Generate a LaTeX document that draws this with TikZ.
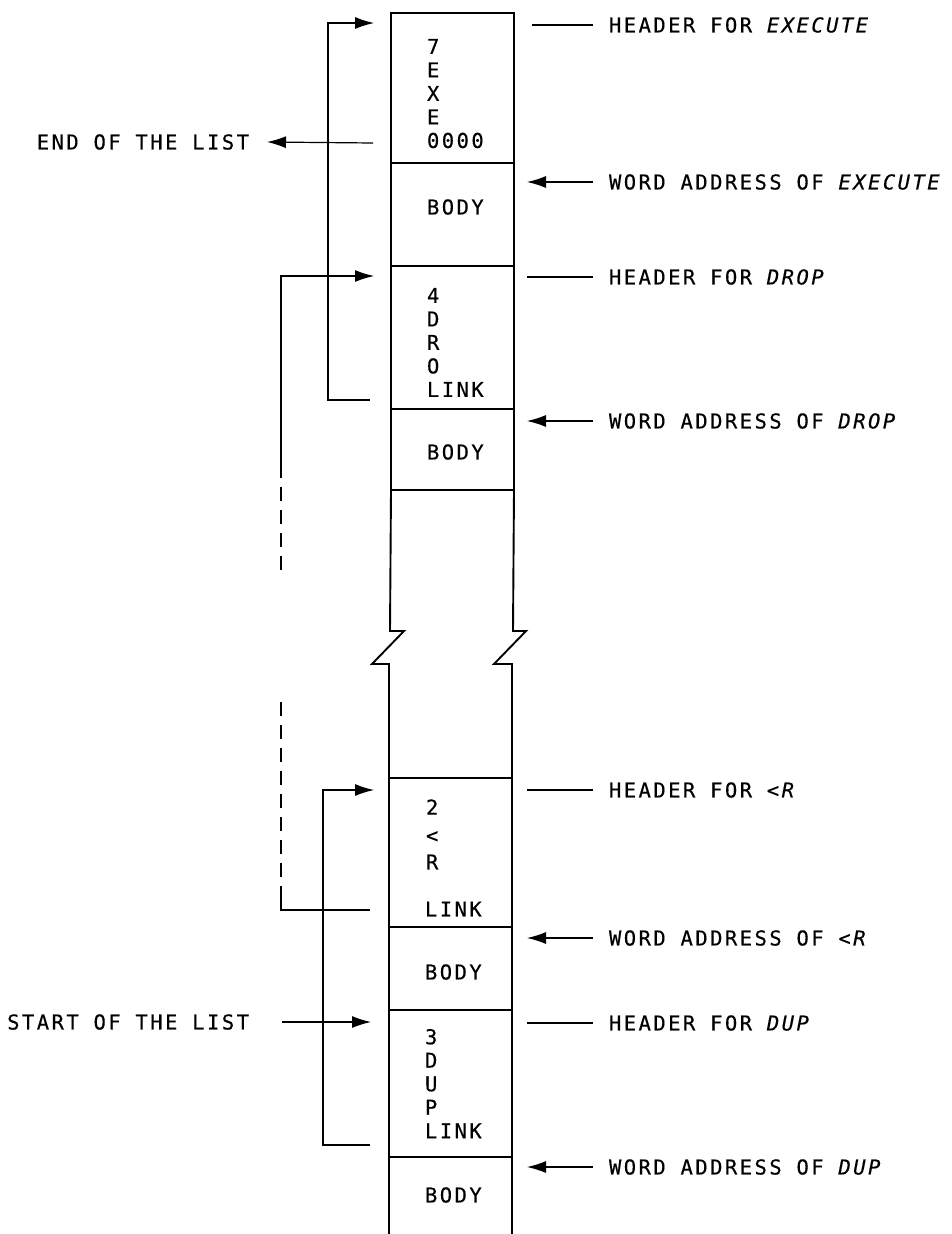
\documentclass[tikz,border=0pt]{standalone}
\usepackage{fontspec}
\usetikzlibrary{arrows.meta}
\newfontfamily\lettering[LetterSpace=12, FakeBold=0.4]{DejaVu Sans Mono}
\tikzset{
  lbl/.style={font=\lettering\fontsize{20.5}{24}\selectfont, inner sep=0pt, outer sep=0pt, anchor=west},
  stack/.style={font=\lettering\fontsize{20.5}{23.5}\selectfont, inner sep=0pt, outer sep=0pt, anchor=north west, align=left},
  cell/.style={draw, line width=1.9pt, inner sep=0pt, outer sep=0pt, minimum width=123pt, anchor=north west},
  opencell/.style={inner sep=0pt, outer sep=0pt, minimum width=123pt, anchor=north west},
  wall/.style={line width=1.9pt},
  link/.style={line width=1.2pt},
  arrowhd/.style={-{Latex[length=19pt,width=12pt]}},
  dashseg/.style={line width=1.2pt, dash pattern=on 14pt off 9pt},
}
\begin{document}
\begin{tikzpicture}[x=1pt,y=-1pt]
\useasboundingbox (0,0) rectangle (952,1234);
% column cells
\node[cell, minimum height=150pt] (b1) at (391,13) {};
\node[cell, minimum height=103pt] (b2) at (391,163) {};
\node[cell, minimum height=143pt] (b3) at (391,266) {};
\node[cell, minimum height=81pt]  (b4) at (391,409) {};
\node[cell, minimum height=149pt] (b5) at (389,778) {};
\node[cell, minimum height=83pt]  (b6) at (389,927) {};
\node[cell, minimum height=147pt] (b7) at (389,1010) {};
\node[opencell, minimum height=77pt] (b8) at (389,1157) {};
\draw[wall] (b8.south west) -- (b8.north west) -- (b8.north east) -- (b8.south east);
% broken column walls
\draw[wall] (b4.south west) -- (390,631) -- (404,631) -- (372,664) -- (389,664) -- (b5.north west);
\draw[wall] (b4.south east) -- (513,631) -- (526,631) -- (494,664) -- (512,664) -- (b5.north east);

% cell texts
\node[stack] (t1) at (427,39) {7\\E\\X\\E\\0000};
\node[lbl] (t2) at (427,207) {BODY};
\node[stack] (t3) at (427,288) {4\\D\\R\\O\\LINK};
\node[lbl] (t4) at (427,452) {BODY};
\node[lbl] (t5a) at (426,807) {2};
\node[lbl] (t5b) at (426,837) {<};
\node[lbl] (t5c) at (426,862) {R};
\node[lbl] (t5d) at (425,909) {LINK};
\node[lbl] (t6) at (425,972) {BODY};
\node[stack] (t7) at (425,1029) {3\\D\\U\\P\\LINK};
\node[lbl] (t8) at (425,1195) {BODY};

% right side labels
\node[lbl] (r1) at (609,25) {HEADER FOR \textit{EXECUTE}};
\node[lbl] (r2) at (609,182) {WORD ADDRESS OF \textit{EXECUTE}};
\node[lbl] (r3) at (609,277) {HEADER FOR \textit{DROP}};
\node[lbl] (r4) at (609,421) {WORD ADDRESS OF \textit{DROP}};
\node[lbl] (r5) at (609,790) {HEADER FOR \textit{<R}};
\node[lbl] (r6) at (609,938) {WORD ADDRESS OF \textit{<R}};
\node[lbl] (r7) at (609,1023) {HEADER FOR \textit{DUP}};
\node[lbl] (r8) at (609,1167) {WORD ADDRESS OF \textit{DUP}};
\draw[link] ([xshift=-16pt]r1.west) -- ++(-61,0);
\draw[link,arrowhd] ([xshift=-16pt]r2.west) -- ++(-66,0);
\draw[link] ([xshift=-16pt]r3.west) -- ++(-66,0);
\draw[link,arrowhd] ([xshift=-16pt]r4.west) -- ++(-66,0);
\draw[link] ([xshift=-16pt]r5.west) -- ++(-66,0);
\draw[link,arrowhd] ([xshift=-16pt]r6.west) -- ++(-66,0);
\draw[link] ([xshift=-16pt]r7.west) -- ++(-66,0);
\draw[link,arrowhd] ([xshift=-16pt]r8.west) -- ++(-66,0);

% left labels
\node[lbl, anchor=east] (endl) at (249,142) {END OF THE LIST};
\node[lbl, anchor=east] (startl) at (249,1022) {START OF THE LIST};
\coordinate (e0) at (373,143);
\draw[link,arrowhd] (e0) -- ([xshift=18pt]endl.east);
\coordinate (s1) at (371,1022);
\draw[link,arrowhd] ([xshift=33pt]startl.east) -- (s1);

% link chains
\coordinate (c1) at (370,400);
\coordinate (a1) at (374,23);
\draw[link,arrowhd] (c1) -- ++(-42,0) |- (a1);

\coordinate (c2) at (370,910);
\coordinate (a2) at (374,276);
\draw[link] (c2) -- ++(-89,0) -- (281,900);
\draw[dashseg] (281,900) -- (281,702);
\draw[dashseg] (281,570) -- (281,475);
\draw[link,arrowhd] (281,475) |- (a2);

\coordinate (c3) at (370,1145);
\coordinate (a3) at (374,790);
\draw[link,arrowhd] (c3) -- ++(-47,0) |- (a3);
\end{tikzpicture}
\end{document}
